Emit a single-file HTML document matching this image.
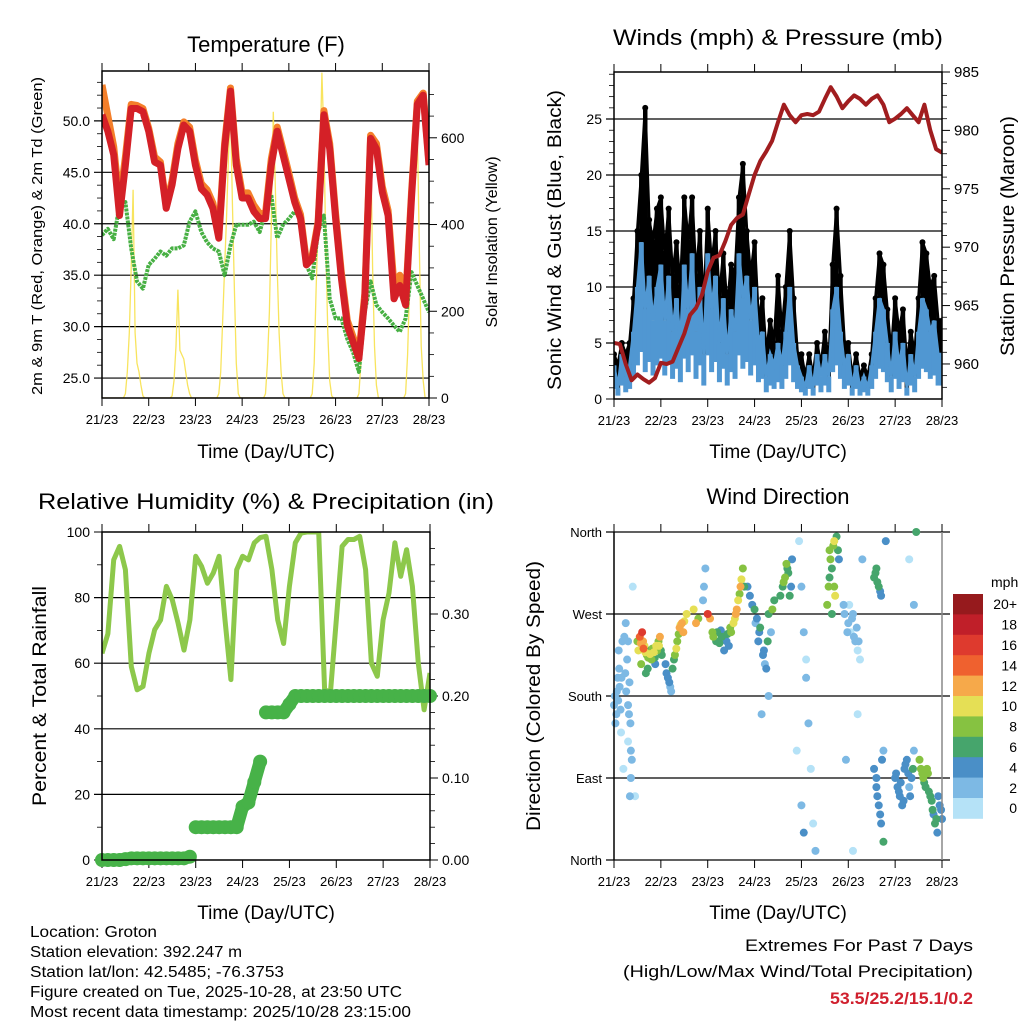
<!DOCTYPE html>
<html><head><meta charset="utf-8"><title>Weather station plots</title>
<style>
html,body{margin:0;padding:0;background:#fff;}
svg{display:block;font-family:"Liberation Sans",Arial,sans-serif;}
</style></head>
<body>
<svg id="chart" width="1024" height="1024" viewBox="0 0 1024 1024" xmlns="http://www.w3.org/2000/svg"></svg>
<script>
// ---------------- DATA (3-hourly unless noted; t=0 is 21/23, t=7 is 28/23) ----------------
const dayLabels = ["21/23","22/23","23/23","24/23","25/23","26/23","27/23","28/23"];
const tempRed = [50.6,49.0,46.7,40.8,45.7,51.2,51.2,50.9,49.0,46.0,45.7,41.5,43.8,47.3,49.6,49.0,45.7,43.4,42.8,41.5,38.6,47.3,52.9,45.7,42.5,42.5,41.2,40.5,40.5,45.7,49.0,46.7,44.4,42.1,40.5,36.0,36.6,39.9,50.6,47.3,40.5,34.7,30.1,28.5,26.9,32.7,48.3,47.3,43.1,40.8,32.7,34.0,32.1,42.5,51.6,52.5,45.7];
const tempOrange = [53.5,50.5,47.5,42.0,46.5,51.6,51.5,51.2,49.3,46.5,46.0,41.8,44.2,47.8,49.9,49.4,46.2,43.9,43.3,42.0,39.0,47.8,53.2,46.3,43.0,43.0,41.8,41.0,41.0,46.3,49.4,47.2,44.9,42.5,40.9,36.3,36.9,40.2,51.0,47.8,41.0,35.2,30.6,29.0,27.3,33.2,48.6,47.8,43.6,41.3,34.0,35.0,32.6,43.0,51.9,52.7,46.0];
const dewGreen = [38.9,39.5,38.5,41.8,42.1,37.6,34.4,33.7,36.0,36.6,37.3,36.9,37.6,37.6,37.9,40.2,41.2,39.2,38.2,37.6,37.3,35.0,37.9,39.9,39.9,39.9,40.2,39.2,41.2,42.8,38.6,39.9,40.5,41.2,40.5,36.0,34.7,39.2,40.8,32.7,30.8,30.8,28.8,27.5,25.6,31.4,34.4,32.1,31.4,30.8,30.1,29.5,30.8,35.3,34.0,32.7,31.4];
// hourly solar insolation (W/m2), one row per day, hours 0..23 UTC
const solarDay0 = [0,0,0,0,0,0,0,0,0,0,0,0,10,60,150,300,480,150,80,60,30,5,0,0];
const solarDay1 = [0,0,0,0,0,0,0,0,0,0,0,0,5,40,120,250,110,100,90,60,30,10,0,0];
const solarDay2 = [0,0,0,0,0,0,0,0,0,0,0,0,10,60,180,300,420,560,670,450,250,80,10,0];
const solarDay3 = [0,0,0,0,0,0,0,0,0,0,0,0,10,80,200,400,660,500,300,150,60,10,0,0];
const solarDay4 = [0,0,0,0,0,0,0,0,0,0,0,0,10,80,250,400,550,750,600,350,150,40,5,0];
const solarDay5 = [0,0,0,0,0,0,0,0,0,0,0,0,10,80,250,400,500,580,610,300,120,30,0,0];
const solarDay6 = [0,0,0,0,0,0,0,0,0,0,0,0,10,100,250,420,560,670,620,350,120,40,0,0];
// 2-hourly wind (mph)
const windMean = [3,1,4,2,3,6,10,14,8,11,7,10, 12,7,11,6,9,5,12,8,13,6,10,4, 13,8,11,5,9,4,8,6,13,9,11,7, 10,5,6,2,4,3,5,3,6,10,5,3, 2,1,3,1,4,2,4,2,8,10,6,3, 4,1,3,1,2,1,3,6,9,8,5,2, 6,3,5,1,4,2,6,9,8,6,7,4, 4];
const windGust = [4,3,5,4,5,9,15,20,26,16,14,17, 18,13,17,11,14,10,18,14,18,11,15,8, 17,12,15,9,13,8,12,11,18,21,15,11, 14,7,9,4,7,5,11,6,10,15,9,4, 4,2,4,2,5,3,6,3,12,17,11,5, 5,2,4,2,3,2,4,9,13,12,8,4, 9,6,8,3,6,4,9,14,13,10,11,7, 7];
const pressure = [961.8,961.7,960.0,958.6,959.1,958.7,958.4,958.8,960.1,960.0,960.2,961.4,962.6,964.2,964.8,965.9,967.9,969.1,969.3,970.5,971.9,972.5,972.8,974.5,976.2,977.4,978.2,979.1,980.7,982.2,981.3,980.7,981.3,981.4,981.3,981.6,982.7,983.7,982.9,981.9,982.5,983.0,982.7,982.2,982.7,983.0,982.2,980.7,981.0,981.4,981.9,981.3,980.7,982.2,980.0,978.4,978.1];
const rh = [63,69,91.5,95.6,88.5,59,51.9,52.9,63,70.2,73.2,83.4,79.3,72.2,64,73.2,92.6,89.5,84.4,87.5,92.6,73.2,55,88.5,92.6,91.5,96.7,98.3,98.7,88.5,73.2,66,83.4,96.7,99.7,100,100,100,52,50.9,73.2,95.6,97.7,97.7,98.7,88.5,60,56,73.2,81.4,96.7,86.5,94.6,83.4,60,45.8,57];
const precip = [0,0,0,0,0.001,0.002,0.002,0.002,0.002,0.002,0.002,0.002,0.002,0.002,0.002,0.004,0.04,0.04,0.04,0.04,0.04,0.04,0.04,0.04,0.065,0.07,0.095,0.12,0.18,0.18,0.18,0.18,0.19,0.2,0.2,0.2,0.2,0.2,0.2,0.2,0.2,0.2,0.2,0.2,0.2,0.2,0.2,0.2,0.2,0.2,0.2,0.2,0.2,0.2,0.2,0.2,0.2];
// wind direction observations: time (days), direction (deg, 0=N,90=E,180=S,270=W), speed (mph)
const wdTime = [0.0,0.02,0.05,0.08,0.1,0.12,0.15,0.18,0.2,0.25,0.28,0.3,0.35,0.33,0.4,0.45, 0.5,0.55,0.6,0.62,0.65,0.7,0.75,0.8,0.85,0.9,0.95,0.98,1.0,0.68,0.72, 1.1,1.15,1.2,1.25,1.3,1.35,1.4,1.45,1.5,1.55, 1.7,1.75,1.8,2.0,1.92,1.95,1.9, 2.05,2.1,2.2,2.3,2.4,2.45,2.5,2.55,2.6,2.65,2.7,2.75, 2.9,3.0,3.05,3.1,3.2,3.25,3.3,3.35,3.3,3.15, 3.6,3.65,3.7,3.75,3.8, 3.95,4.0,4.05,4.1,4.15,4.2,4.25,4.3,4.0,4.05,3.9,4.1, 4.6,4.65,4.7,4.75,4.8,4.55,4.7,4.6, 4.9,5.0,5.05,5.1,5.15,5.2,5.3,5.2,5.1,4.95, 5.55,5.6,5.65,5.7,5.55,5.6,5.65,5.7,5.75,5.8,5.75, 6.0,6.05,6.1,6.15,6.2,6.25,6.3,6.35,6.4,6.3,6.4, 6.55,6.6,6.65,6.7,6.75,6.8,6.85,6.9,6.95,7.0,6.45,
  0.03,0.06,0.09,0.11,0.14,0.16,0.22,0.24,0.26,0.3,0.32,0.36,0.38,0.36,0.34,0.3,
  0.52,0.57,0.63,0.67,0.73,0.77,0.82,0.87,0.92,0.96,1.02,0.88,0.58,
  1.12,1.18,1.22,1.28,1.33,1.38,1.42,1.48,
  2.12,2.18,2.25,2.28,2.35,2.42,2.48,2.58,2.62,2.68,2.72,2.78,
  2.85,2.95,3.02,3.08,3.12,3.18,3.22,3.28,3.38,3.42,
  3.55,3.62,3.68,3.72,3.78,
  4.58,4.62,4.68,4.72,4.78,4.65,
  4.92,4.98,5.02,5.08,5.12,5.18,5.22,5.25,
  5.58,5.62,5.68,5.6,5.62,5.68,5.72,
  6.02,6.08,6.12,6.18,6.22,6.28,6.32,6.38,
  6.52,6.58,6.62,6.68,6.72,6.78,6.82,6.88,6.92,6.98];
const wdDir = [170,180,160,200,230,190,140,240,100,260,220,130,150,195,300,70, 240,245,250,240,235,225,230,220,228,235,240,245,230,205,210, 215,200,190,210,225,240,255,260,262,270, 275,260,265,270,300,320,285, 265,250,250,245,240,235,250,260,270,285,300,320, 290,275,265,250,230,210,270,250,180,160, 300,310,320,290,330, 350,300,250,220,150,100,40,10,60,30,120,200, 340,320,300,355,330,280,350,310, 280,260,250,270,240,230,330,160,10,110, 310,320,300,290,100,80,60,40,20,350,120, 90,80,70,60,100,110,80,90,120,330,280, 100,90,80,95,70,55,40,30,60,45,360,
  150,185,175,210,165,200,245,205,185,170,160,120,110,90,70,240,
  230,238,232,228,222,226,232,222,230,235,225,215,215,
  205,195,185,220,232,248,258,250,
  245,240,238,252,230,248,255,265,275,292,308,300,
  300,280,260,240,255,225,215,240,275,285,
  290,305,325,315,300,
  300,330,345,290,340,270,
  270,250,280,265,245,255,240,220,
  315,305,295,90,70,50,110,
  95,75,85,65,105,95,70,100,
  110,95,85,100,75,65,50,45,70,55];
const wdSpeed = [2,3,2,2,2,2,1,2,1,2,2,1,3,3,1,0, 8,14,16,12,10,8,6,8,10,10,8,12,7,6,6, 4,4,3,6,8,8,12,12,10,10, 10,12,8,16,2,2,3, 12,8,6,6,4,4,8,10,12,10,12,8, 4,6,4,4,4,4,6,2,2,2, 6,8,6,6,4, 1,2,2,1,2,1,1,2,3,4,0,3, 8,6,8,6,4,8,10,6, 2,2,1,2,2,1,2,1,1,2, 6,6,6,4,4,4,4,4,6,4,3, 4,4,4,4,4,4,3,4,2,1,2, 8,8,6,8,6,6,6,4,4,4,6,
  2,3,2,2,3,2,2,3,3,3,3,2,2,2,2,2,
  10,12,14,10,8,10,8,6,8,10,6,4,8,
  4,4,2,6,10,8,10,12,
  8,6,6,4,4,6,8,10,12,8,10,6,
  4,4,2,4,6,4,2,6,8,6,
  6,8,8,6,4,
  8,8,8,10,6,6,
  2,2,1,2,2,2,2,1,
  6,6,4,4,4,4,4,
  4,4,4,4,4,4,4,6,
  8,8,6,8,6,6,4,6,4,4];
const speedBins = ["0","2","4","6","8","10","12","14","16","18","20+"];
const speedColors = ["#b5e2f7","#7db9e4","#4a8fc7","#46a56c","#86c241","#e5df55","#f6a94a","#ef612f","#de3a2e","#c01f29","#961a1d"];

// ---------------- helpers ----------------
const svg = document.getElementById('chart');
const NS = 'http://www.w3.org/2000/svg';
function mk(tag, attrs, parent){
  const e = document.createElementNS(NS, tag);
  for (const k in attrs) e.setAttribute(k, attrs[k]);
  (parent || svg).appendChild(e);
  return e;
}
function txt(s, attrs, parent){ const e = mk('text', attrs, parent); e.textContent = s; return e; }
function linScale(d0, d1, r0, r1){ return v => r0 + (v - d0) / (d1 - d0) * (r1 - r0); }

function panelFrame(name, P, yTicksL, yTicksR, opts){
  const g = mk('g', {});
  
  
  const sx = linScale(0, 7, P.x0, P.x1);
  yTicksL.forEach(tk => {
    const y = opts.syL(tk.v);
    if (tk.grid) {
      const gl = mk('line', {x1:P.x0-8, x2:P.x1+(opts.gridExt||0), y1:y, y2:y, stroke:'#000', 'stroke-width':1.2}, g);
      
      
    } else {
      mk('line', {x1:P.x0-8, x2:P.x0, y1:y, y2:y, stroke:'#000', 'stroke-width':1}, g);
    }
    if (tk.label !== undefined) {
      const t = txt(tk.label, {x:P.x0-12, y:y+5, 'text-anchor':'end', 'font-size':opts.fsL||15, fill:'#000'}, g);
      
      
    }
  });
  (opts.minorL||[]).forEach(v => { const y = opts.syL(v); mk('line', {x1:P.x0-5, x2:P.x0, y1:y, y2:y, stroke:'#000', 'stroke-width':0.8}, g); });
  (yTicksR||[]).forEach(tk => {
    const y = opts.syR(tk.v);
    mk('line', {x1:P.x1, x2:P.x1+8, y1:y, y2:y, stroke:'#000', 'stroke-width':1}, g);
    const t = txt(tk.label, {x:P.x1+12, y:y+5, 'font-size':opts.fsR||14, fill:'#000'}, g);
    
    
  });
  (opts.minorR||[]).forEach(v => { const y = opts.syR(v); mk('line', {x1:P.x1, x2:P.x1+5, y1:y, y2:y, stroke:'#000', 'stroke-width':0.8}, g); });
  dayLabels.forEach((lab, i) => {
    const x = sx(i);
    mk('line', {x1:x, x2:x, y1:P.y1, y2:P.y1+8, stroke:'#000', 'stroke-width':1}, g);
    mk('line', {x1:x, x2:x, y1:P.y0-8, y2:P.y0, stroke:'#000', 'stroke-width':1}, g);
    const t = txt(lab, {x:x, y:P.y1+26, 'text-anchor':'middle', 'font-size':13, fill:'#000'}, g);
    
    
  });
  return {g, sx};
}
function borderBox(name, P){
  const r = mk('rect', {x:P.x0, y:P.y0, width:P.x1-P.x0, height:P.y1-P.y0, fill:'none', stroke:'#000', 'stroke-width':1.5});
  
  
}
function clip(id, P){
  const c = mk('clipPath', {id:id});
  mk('rect', {x:P.x0, y:P.y0, width:P.x1-P.x0, height:P.y1-P.y0}, c);
}
function pts(arr, sx, sy, step){ return arr.map((v,i)=> sx(i*step).toFixed(1)+','+sy(v).toFixed(1)).join(' '); }

// ---------------- Panel 1: Temperature ----------------
(function(){
  const P = {x0:102, x1:429, y0:71, y1:398};
  const syL = linScale(23.06, 54.85, P.y1, P.y0);
  const syR = linScale(0, 754, P.y1, P.y0);
  const ticks = [25,30,35,40,45,50].map(v=>({v, label:v.toFixed(1), grid:true}));
  const minor = [26.25,27.5,28.75,31.25,32.5,33.75,36.25,37.5,38.75,41.25,42.5,43.75,46.25,47.5,48.75,51.25,52.5,53.75];
  const rt = [0,200,400,600].map(v=>({v, label:String(v)}));
  const minorR = [50,100,150,250,300,350,450,500,550,650,700];
  const {sx} = panelFrame('temperature-axes', P, ticks, rt, {syL, syR, minorL:minor, minorR, fsL:14, fsR:14});
  clip('c1', P);
  const g = mk('g', {'clip-path':'url(#c1)'});
  
  
  const solar = [].concat(solarDay0, solarDay1, solarDay2, solarDay3, solarDay4, solarDay5, solarDay6, [0]);
  const ys = mk('polyline', {points: pts(solar, sx, syR, 1/24), fill:'none', stroke:'#f7e14d', 'stroke-width':1.3, opacity:0.9}, g);
  
  
  const yg = mk('polyline', {points: pts(dewGreen, sx, syL, 0.125), fill:'none', stroke:'#47b043', 'stroke-width':4, 'stroke-dasharray':'3 1', 'stroke-linejoin':'round'}, g);
  
  
  const yo = mk('polyline', {points: pts(tempOrange, sx, syL, 0.125), fill:'none', stroke:'#f47f2a', 'stroke-width':7, 'stroke-linejoin':'round'}, g);
  
  
  const yr = mk('polyline', {points: pts(tempRed, sx, syL, 0.125), fill:'none', stroke:'#d42027', 'stroke-width':7, 'stroke-linejoin':'round'}, g);
  
  
  borderBox('temperature-plot-frame', P);
})();

// ---------------- Panel 2: Winds & Pressure ----------------
(function(){
  const P = {x0:614, x1:942, y0:72, y1:399};
  const syL = linScale(0, 29.2, P.y1, P.y0);
  const syR = linScale(957, 985, P.y1, P.y0);
  const ticks = [0,5,10,15,20,25].map(v=>({v, label:String(v), grid:v>0}));
  const minor = [1,2,3,4,6,7,8,9,11,12,13,14,16,17,18,19,21,22,23,24,26,27,28,29];
  const rt = [960,965,970,975,980,985].map(v=>({v, label:String(v)}));
  const minorR = [958,959,961,962,963,964,966,967,968,969,971,972,973,974,976,977,978,979,981,982,983,984];
  const {sx} = panelFrame('wind-axes', P, ticks, rt, {syL, syR, minorL:minor, minorR, fsL:14, fsR:15});
  clip('c2', P);
  const g = mk('g', {'clip-path':'url(#c2)'});
  
  
  const step = 1/12;
  const gl = mk('polyline', {points: pts(windGust, sx, syL, step), fill:'none', stroke:'#000', 'stroke-width':3, 'stroke-linejoin':'round'}, g);
  
  
  windGust.forEach((gv, i) => {
    const x = sx(i*step);
    const lo = windMean[i];
    const b = mk('line', {x1:x, x2:x, y1:syL(lo), y2:syL(gv), stroke:'#000', 'stroke-width':4.5}, g);
    
    
    const d = mk('circle', {cx:x, cy:syL(gv), r:3, fill:'#000'}, g);
    
    
  });
  windMean.forEach((wv, i) => {
    const x = sx(i*step);
    const b = mk('line', {x1:x, x2:x, y1:syL(wv*0.3), y2:syL(wv), stroke:'#5097d2', 'stroke-width':5}, g);
    
    
  });
  const wl = mk('polyline', {points: pts(windMean, sx, syL, step), fill:'none', stroke:'#5097d2', 'stroke-width':3}, g);
  
  
  const pl = mk('polyline', {points: pts(pressure, sx, syR, 0.125), fill:'none', stroke:'#a11d1f', 'stroke-width':4, 'stroke-linejoin':'round'}, g);
  
  
  borderBox('wind-plot-frame', P);
})();

// ---------------- Panel 3: RH & Precip ----------------
(function(){
  const P = {x0:102, x1:430, y0:532, y1:860};
  const syL = linScale(0, 100, P.y1, P.y0);
  const syR = linScale(0, 0.4, P.y1, P.y0);
  const ticks = [0,20,40,60,80,100].map(v=>({v, label:String(v), grid:v>0 && v<100}));
  const minor = [10,30,50,70,90];
  const rt = [0,0.1,0.2,0.3].map(v=>({v, label:v.toFixed(2)}));
  const minorR = [0.02,0.04,0.06,0.08,0.12,0.14,0.16,0.18,0.22,0.24,0.26,0.28,0.32,0.34,0.36,0.38];
  const {sx} = panelFrame('humidity-axes', P, ticks, rt, {syL, syR, minorL:minor, minorR, fsL:14, fsR:14});
  clip('c3', P);
  const g = mk('g', {'clip-path':'url(#c3)'});
  
  
  const rl = mk('polyline', {points: pts(rh, sx, syL, 0.125), fill:'none', stroke:'#8dc84b', 'stroke-width':5, 'stroke-linejoin':'round'}, g);
  
  
  const g2 = mk('g', {});
  
  
  precip.forEach((v, i) => {
    if (i > 0 && Math.abs(v - precip[i-1]) < 0.03) {
      mk('line', {x1:sx((i-1)*0.125), x2:sx(i*0.125), y1:syR(precip[i-1]), y2:syR(v), stroke:'#47b248', 'stroke-width':13, 'stroke-linecap':'round'}, g2);
    }
    const c = mk('circle', {cx:sx(i*0.125), cy:syR(v), r:7, fill:'#47b248'}, g2);
    
    
  });
  borderBox('humidity-plot-frame', P);
})();

// ---------------- Panel 4: Wind Direction ----------------
(function(){
  const P = {x0:614, x1:942, y0:532, y1:860};
  const syL = linScale(0, 360, P.y1, P.y0);
  const names = ["North","East","South","West","North"];
  const ticks = [0,90,180,270,360].map((v,i)=>({v, label:names[i], grid:true}));
  const {sx} = panelFrame('direction-axes', P, ticks, [], {syL, fsL:13, gridExt:8});
  clip('c4', {x0:P.x0-4, x1:P.x1+4, y0:P.y0-4, y1:P.y1+4});
  const g = mk('g', {'clip-path':'url(#c4)'});
  
  
  const order = wdSpeed.map((s,i)=>i).sort((a,b)=>wdSpeed[a]-wdSpeed[b]);
  order.forEach(i => {
    const bin = Math.min(10, Math.floor(wdSpeed[i]/2));
    const c = mk('circle', {cx:sx(wdTime[i]), cy:syL(wdDir[i]), r:4, fill:speedColors[bin]}, g);
    
    
  });
  mk('line', {x1:P.x1, x2:P.x1, y1:P.y0, y2:P.y1, stroke:'#888', 'stroke-width':1.5});
  mk('line', {x1:P.x0, x2:P.x0, y1:P.y0, y2:P.y1, stroke:'#000', 'stroke-width':1.5});
  const cb = mk('g', {});
  
  
  const h = 20.4, top = 594;
  speedColors.slice().reverse().forEach((col, k) => {
    const r = mk('rect', {x:953, y:top+k*h, width:30, height:h+0.4, fill:col}, cb);
    
    
    const t = txt(speedBins[10-k], {x:1017, y:top+k*h+h/2+5, 'text-anchor':'end', 'font-size':14, fill:'#000'}, cb);
    
    
  });
  const u = txt('mph', {x:991, y:587, 'font-size':14, fill:'#000'}, cb);
  
  
})();

// ---------------- Titles & labels ----------------
function label(s, name, attrs){ const t = txt(s, Object.assign({fill:'#000'}, attrs));   return t; }
label('Temperature (F)', 'temperature-title', {x:266, y:52, 'text-anchor':'middle', 'font-size':22});
label('Winds (mph) & Pressure (mb)', 'wind-title', {x:778, y:45, 'text-anchor':'middle', 'font-size':22, textLength:330, lengthAdjust:'spacingAndGlyphs'});
label('Relative Humidity (%) & Precipitation (in)', 'humidity-title', {x:266, y:509, 'text-anchor':'middle', 'font-size':22, textLength:456, lengthAdjust:'spacingAndGlyphs'});
label('Wind Direction', 'direction-title', {x:778, y:504, 'text-anchor':'middle', 'font-size':22});
label('Time (Day/UTC)', 'x-axis-title-temperature', {x:266, y:458, 'text-anchor':'middle', 'font-size':19});
label('Time (Day/UTC)', 'x-axis-title-wind', {x:778, y:458, 'text-anchor':'middle', 'font-size':19});
label('Time (Day/UTC)', 'x-axis-title-humidity', {x:266, y:919, 'text-anchor':'middle', 'font-size':19});
label('Time (Day/UTC)', 'x-axis-title-direction', {x:778, y:919, 'text-anchor':'middle', 'font-size':19});
label('2m & 9m T (Red, Orange) & 2m Td (Green)', 'temperature-y-title', {x:0, y:0, 'text-anchor':'middle', 'font-size':15, textLength:318, lengthAdjust:'spacingAndGlyphs', transform:'translate(42,236) rotate(-90)'});
label('Solar Insolation (Yellow)', 'solar-y-title', {x:0, y:0, 'text-anchor':'middle', 'font-size':16, transform:'translate(497,242) rotate(-90)'});
label('Sonic Wind & Gust (Blue, Black)', 'wind-y-title', {x:0, y:0, 'text-anchor':'middle', 'font-size':19, textLength:300, lengthAdjust:'spacingAndGlyphs', transform:'translate(561,240) rotate(-90)'});
label('Station Pressure (Maroon)', 'pressure-y-title', {x:0, y:0, 'text-anchor':'middle', 'font-size':19, textLength:240, lengthAdjust:'spacingAndGlyphs', transform:'translate(1014,236) rotate(-90)'});
label('Percent & Total Rainfall', 'humidity-y-title', {x:0, y:0, 'text-anchor':'middle', 'font-size':19, textLength:220, lengthAdjust:'spacingAndGlyphs', transform:'translate(46,696) rotate(-90)'});
label('Direction (Colored By Speed)', 'direction-y-title', {x:0, y:0, 'text-anchor':'middle', 'font-size':19, textLength:270, lengthAdjust:'spacingAndGlyphs', transform:'translate(540,696) rotate(-90)'});
const info = ['Location: Groton','Station elevation: 392.247 m','Station lat/lon: 42.5485; -76.3753','Figure created on Tue, 2025-10-28, at 23:50 UTC','Most recent data timestamp: 2025/10/28 23:15:00'];
const infoW = [127,212,254,372,381];
info.forEach((s,i)=> label(s, 'station-info-line', {x:30, y:937+i*20, 'font-size':15.5, textLength:infoW[i], lengthAdjust:'spacingAndGlyphs'}));
label('Extremes For Past 7 Days', 'extremes-heading', {x:973, y:951, 'text-anchor':'end', 'font-size':17, textLength:228, lengthAdjust:'spacingAndGlyphs'});
label('(High/Low/Max Wind/Total Precipitation)', 'extremes-subheading', {x:973, y:977, 'text-anchor':'end', 'font-size':17, textLength:350, lengthAdjust:'spacingAndGlyphs'});
label('53.5/25.2/15.1/0.2', 'extremes-values', {x:973, y:1004, 'text-anchor':'end', 'font-size':17, 'font-weight':'bold', fill:'#d0202e', textLength:143, lengthAdjust:'spacingAndGlyphs'});
</script>
</body></html>
